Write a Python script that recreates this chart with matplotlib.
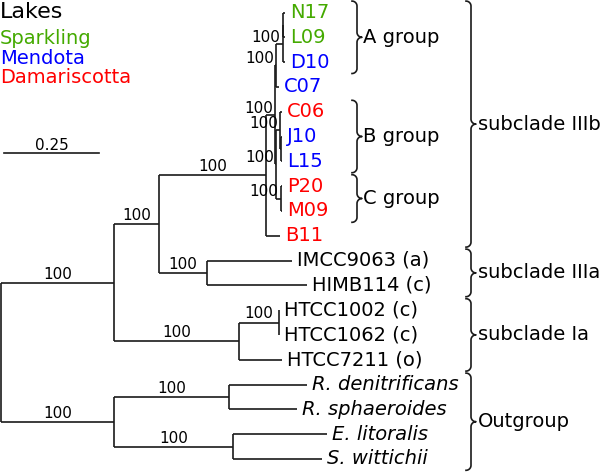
import numpy as np
import matplotlib
matplotlib.use('Agg')
import matplotlib.pyplot as plt

# tree as a parent table, listed depth first so the leaves come out top to bottom
node = ['root', 'ingroup', 'III', 'IIIb', 'X', 'AC', 'A', 'NL', 'N17', 'L09', 'D10', 'C07',
        'BC', 'B', 'C06', 'JL', 'J10', 'L15', 'C', 'P20', 'M09', 'B11',
        'IIIa', 'IMCC9063 (a)', 'HIMB114 (c)',
        'Ia', 'HTCC', 'HTCC1002 (c)', 'HTCC1062 (c)', 'HTCC7211 (o)',
        'out', 'Rhod', 'R. denitrificans', 'R. sphaeroides',
        'Sphi', 'E. litoralis', 'S. wittichii']
parent = [None, 'root', 'ingroup', 'III', 'IIIb', 'X', 'AC', 'A', 'NL', 'NL', 'A', 'AC',
          'X', 'BC', 'B', 'B', 'JL', 'JL', 'BC', 'C', 'C', 'IIIb',
          'III', 'IIIa', 'IIIa',
          'ingroup', 'Ia', 'HTCC', 'HTCC', 'Ia',
          'root', 'out', 'Rhod', 'Rhod', 'out', 'Sphi', 'Sphi']
blen = [0, 0.297, 0.118, 0.282, 0.024, 0.003, 0.017, 0.001, 0.005, 0.005, 0.006, 0.008,
        0.003, 0.011, 0.004, 0.001, 0.004, 0.004, 0.012, 0.004, 0.004, 0.038,
        0.126, 0.224, 0.263,
        0.329, 0.105, 0.001, 0.001, 0.113,
        0.297, 0.303, 0.205, 0.179, 0.313, 0.247, 0.234]
boot = [None, 100, 100, 100, 100, 100, 100, None, None, None, None, None,
        100, 100, None, None, None, None, 100, None, None, None,
        100, None, None,
        100, 100, None, None, None,
        100, 100, None, None, 100, None, None]

lakes = ['Sparkling', 'Mendota', 'Damariscotta']
lake_colors = ['#44aa00', '#0000ff', '#ff0000']
isolate_lake = {'N17': 'Sparkling', 'L09': 'Sparkling', 'D10': 'Mendota', 'C07': 'Mendota',
                'C06': 'Damariscotta', 'J10': 'Mendota', 'L15': 'Mendota',
                'P20': 'Damariscotta', 'M09': 'Damariscotta', 'B11': 'Damariscotta'}
italic_leaves = ['R. denitrificans', 'R. sphaeroides', 'E. litoralis', 'S. wittichii']

group_names = ['A group', 'B group', 'C group']
group_first = ['N17', 'C06', 'P20']
group_last = ['D10', 'L15', 'M09']
clade_names = ['subclade IIIb', 'subclade IIIa', 'subclade Ia', 'Outgroup']
clade_first = ['N17', 'IMCC9063 (a)', 'HTCC1002 (c)', 'R. denitrificans']
clade_last = ['B11', 'HIMB114 (c)', 'HTCC7211 (o)', 'S. wittichii']

PX = 1 / 380.0    # tree units per pixel
ROW = 24.8        # pixels per leaf row

# layout
children = {n: [] for n in node}
for n, p in zip(node, parent):
    if p is not None:
        children[p].append(n)
xpos, ypos = {}, {}
for n, p, b in zip(node, parent, blen):
    xpos[n] = b if p is None else xpos[p] + b
leaves = [n for n in node if not children[n]]
for i, n in enumerate(leaves):
    ypos[n] = i
for n in reversed(node):
    if children[n]:
        ypos[n] = (ypos[children[n][0]] + ypos[children[n][-1]]) / 2

fig = plt.figure(figsize=(6, 4.72), dpi=100)
ax = fig.add_axes([0, 0, 1, 1])
ax.set_xlim(-1 * PX, 599 * PX)
ax.set_ylim((472 - 12.5) / ROW, -12.5 / ROW)
ax.axis('off')

lc = '#1a1a1a'
lw = 1.2
for n, p, b in zip(node, parent, boot):
    if p is not None:
        ax.plot([xpos[p], xpos[n]], [ypos[n], ypos[n]], color=lc, lw=lw, solid_capstyle='butt')
    if children[n]:
        ax.plot([xpos[n], xpos[n]], [ypos[children[n][0]], ypos[children[n][-1]]],
                color=lc, lw=lw, solid_capstyle='butt')
    if b is not None and p is not None:
        if (xpos[n] - xpos[p]) / PX > 30:
            ax.text((xpos[n] + xpos[p]) / 2, ypos[n] - 4 / ROW, str(b), fontsize=11,
                    ha='center', va='baseline')
        else:
            ax.text(xpos[n] - 2 * PX, ypos[n] - 2 / ROW, str(b), fontsize=11,
                    ha='right', va='baseline')

for n in leaves:
    col = 'black'
    if n in isolate_lake:
        col = lake_colors[lakes.index(isolate_lake[n])]
    ax.text(xpos[n] + 5 * PX, ypos[n], n, fontsize=14, color=col, ha='left', va='center',
            style='italic' if n in italic_leaves else 'normal')


def brace(x0, y0, y1, r=5):
    rx, ry = r * PX, r / ROW
    ym = (y0 + y1) / 2
    t = np.linspace(0, np.pi / 2, 15)
    xs = np.concatenate([x0 + rx * np.sin(t), x0 + 2 * rx - rx * np.cos(t),
                         x0 + 2 * rx - rx * np.cos(t)[::-1], x0 + rx * np.sin(t)[::-1]])
    ys = np.concatenate([y0 + ry - ry * np.cos(t), ym - ry + ry * np.sin(t),
                         ym + ry - ry * np.sin(t)[::-1], y1 - ry + ry * np.cos(t)[::-1]])
    ax.plot(xs, ys, color=lc, lw=1.2)
    return ym


pad = 0.46
for name, a, b in zip(group_names, group_first, group_last):
    ym = brace(351 * PX, ypos[a] - pad, ypos[b] + pad)
    ax.text(362 * PX, ym, name, fontsize=14, ha='left', va='center')
for name, a, b in zip(clade_names, clade_first, clade_last):
    ym = brace(465 * PX, ypos[a] - pad, ypos[b] + pad)
    ax.text(477 * PX, ym, name, fontsize=14, ha='left', va='center')

# scale bar
sb_x, sb_y = 3 * PX, (153 - 12.5) / ROW
ax.plot([sb_x, sb_x + 0.25], [sb_y, sb_y], color=lc, lw=1.2)
ax.text(sb_x + 0.125, sb_y - 3 / ROW, '0.25', fontsize=11, ha='center', va='baseline')

# lake legend
ax.text(0, 1 - 18 / 472, 'Lakes', fontsize=16, transform=ax.transAxes, va='baseline')
for i, (lk, c) in enumerate(zip(lakes, lake_colors)):
    ax.text(0, 1 - (44 + 19.5 * i) / 472, lk, fontsize=14, color=c,
            transform=ax.transAxes, va='baseline')

fig.savefig('out.png', dpi=100)
